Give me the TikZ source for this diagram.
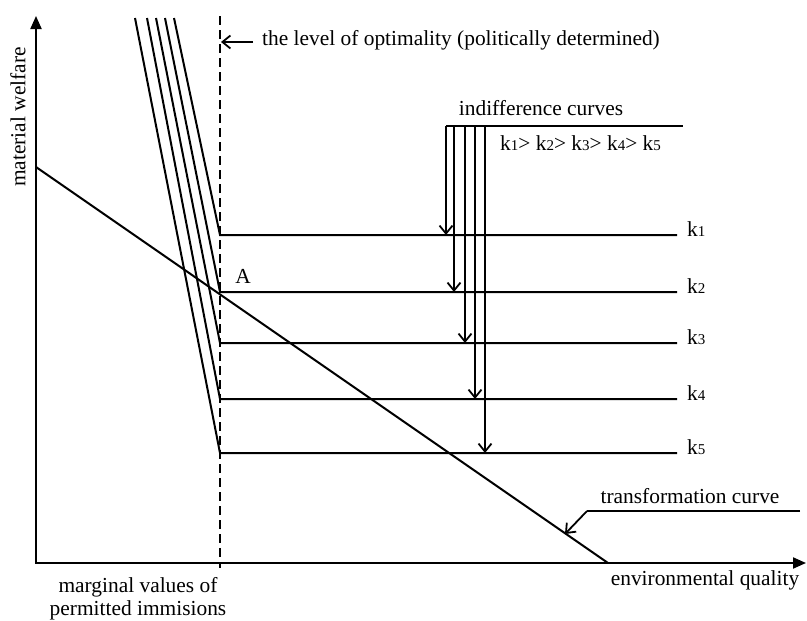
\documentclass[tikz,border=0pt]{standalone}
\usepackage{fontspec}
\setmainfont{Liberation Serif}
\usetikzlibrary{arrows.meta}
\newcommand{\kk}[1]{k{\fontsize{15}{15}\selectfont #1}}

\begin{document}
\begin{tikzpicture}[
    x=1pt, y=-1pt,
    every node/.style={font=\fontsize{21.4}{23}\selectfont, inner sep=0pt},
    axis/.style={line width=2pt, {Triangle[length=13pt,width=11pt]}-{Triangle[length=13pt,width=11pt]}},
    curve/.style={line width=2pt},
    optline/.style={line width=1.7pt, dash pattern=on 9pt off 5pt},
    ptr/.style={line width=1.8pt, -{Straight Barb[length=8pt,width=13pt]}},
    lbl/.style={align=center}
]
\useasboundingbox (0,0) rectangle (807,621);
\coordinate (ytop) at (36,16);
\coordinate (O) at (36,563);
\coordinate (xend) at (806,563);
\draw[axis] (ytop) -- (O) -- (xend);
\node[lbl, rotate=90] (ylab) at (18,117) {material welfare};
\node[lbl] (xlab) at (705,580) {environmental quality};
\node[lbl] (mlab) at (138,599) {marginal values of\\permitted immisions};

\coordinate (opttop) at (220,16);
\coordinate (optbot) at (220,568);
\draw[optline] (opttop) -- (optbot);
\coordinate (la0) at (253,42);
\coordinate (la1) at (221,42);
\draw[ptr] (la0) -- (la1);
\node[anchor=west] (optlab) at (262,40) {the level of optimality (politically determined)};

\foreach \i/\y/\t in {1/235/174, 2/292/165, 3/343/156, 4/399/147, 5/453/135} {
    \coordinate (L\i) at (220,\y);
    \coordinate (R\i) at (677,\y);
    \coordinate (S\i) at (\t,18);
    \draw[curve] (S\i) -- (L\i) -- (R\i);
    \node[anchor=west] (k\i) at (687,\y-6) {\kk{\i}};
}

\coordinate (ic0) at (446,126);
\coordinate (ic1) at (683,126);
\draw[curve] (ic0) -- (ic1);
\foreach \i/\x in {1/446, 2/454, 3/465, 4/475, 5/485} {
    \coordinate (a\i) at (\x,126);
    \draw[ptr] (a\i) -- (a\i |- L\i);
}
\node[lbl] (iclab) at (541,108) {indifference curves};
\node[anchor=west] (order) at (500,143) {\kk{1}> \kk{2}> \kk{3}> \kk{4}> \kk{5}};

\coordinate (T0) at (36,167);
\coordinate (T1) at (608,563);
\draw[curve] (T0) -- (T1);
\node (A) at (243,276) {A};
\coordinate (tc0) at (800,511);
\coordinate (tc1) at (587,511);
\coordinate (tc2) at (565,534);
\draw[curve] (tc0) -- (tc1);
\draw[ptr] (tc1) -- (tc2);
\node[lbl] (tclab) at (690,496) {transformation curve};
\end{tikzpicture}
\end{document}
